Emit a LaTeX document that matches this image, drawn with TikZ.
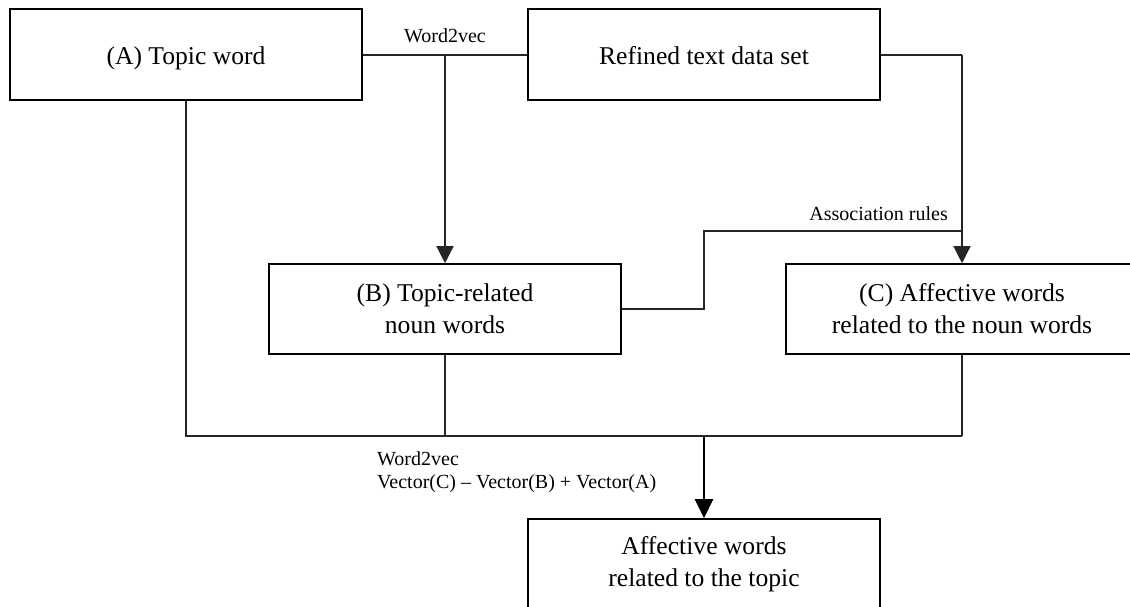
\documentclass[tikz,border=0pt]{standalone}
\usepackage{fontspec}
\setmainfont{Liberation Serif}
\usetikzlibrary{arrows.meta}
\begin{document}
\begin{tikzpicture}[x=1pt,y=-1pt,
  box/.style={draw=black,line width=1.6pt,rectangle,minimum width=352pt,minimum height=90pt,inner sep=0pt,align=center,font=\fontsize{25.6}{32}\selectfont},
  onebox/.style={box,minimum height=91pt,text height=21pt,text depth=1pt},
  conn/.style={draw=black!85,line width=1.4pt},
  arr/.style={conn,-{Triangle[length=17pt,width=17pt]}},
  bigarr/.style={draw=black,line width=2.4pt,-{Triangle[length=19pt,width=18pt]}},
  lab/.style={font=\fontsize{20}{23}\selectfont,inner sep=0pt}]
\useasboundingbox (0,0) rectangle (1130,607);
\clip (0,0) rectangle (1130,607);
\fill[white] (0,0) rectangle (1130,607);
% boxes
\node[onebox] (A) at (186,54.5) {(A) Topic word};
\node[onebox] (R) at (704,54.5) {Refined text data set};
\node[box] (B) at (445,309) {(B) Topic-related\\noun words};
\node[box] (C) at (962,309) {(C) Affective words\\related to the noun words};
\node[box] (D) at (704,564) {Affective words\\related to the topic};
% helper coordinates
\coordinate (j1) at (445,55);
\coordinate (r1) at (962,55);
\coordinate (e1) at (704,309);
\coordinate (e2) at (704,231);
\coordinate (e3) at (962,231);
\coordinate (b1) at (186,436);
\coordinate (b2) at (445,436);
\coordinate (b3) at (704,436);
\coordinate (b4) at (962,436);
% top connectors
\draw[conn] (A.east |- j1) -- (R.west |- j1);
\draw[arr] (j1) -- (B.north);
\draw[conn] (R.east |- r1) -- (r1);
\draw[arr] (r1) -- (C.north);
\draw[conn] (B.east) -- (e1) -- (e2) -- (e3);
% bottom connectors
\draw[conn] (A.south) -- (b1) -- (b4);
\draw[conn] (B.south) -- (b2);
\draw[conn] (C.south) -- (b4);
\draw[bigarr] (b3) -- (D.north);
% labels
\node[lab,anchor=base] (l1) at (445,43) {Word2vec};
\node[lab,anchor=base east] (l2) at (948,220) {Association rules};
\node[lab,anchor=base west] (l3) at (377,465) {Word2vec};
\node[lab,anchor=base west] (l4) at (377,488) {Vector(C) – Vector(B) + Vector(A)};
\end{tikzpicture}
\end{document}
